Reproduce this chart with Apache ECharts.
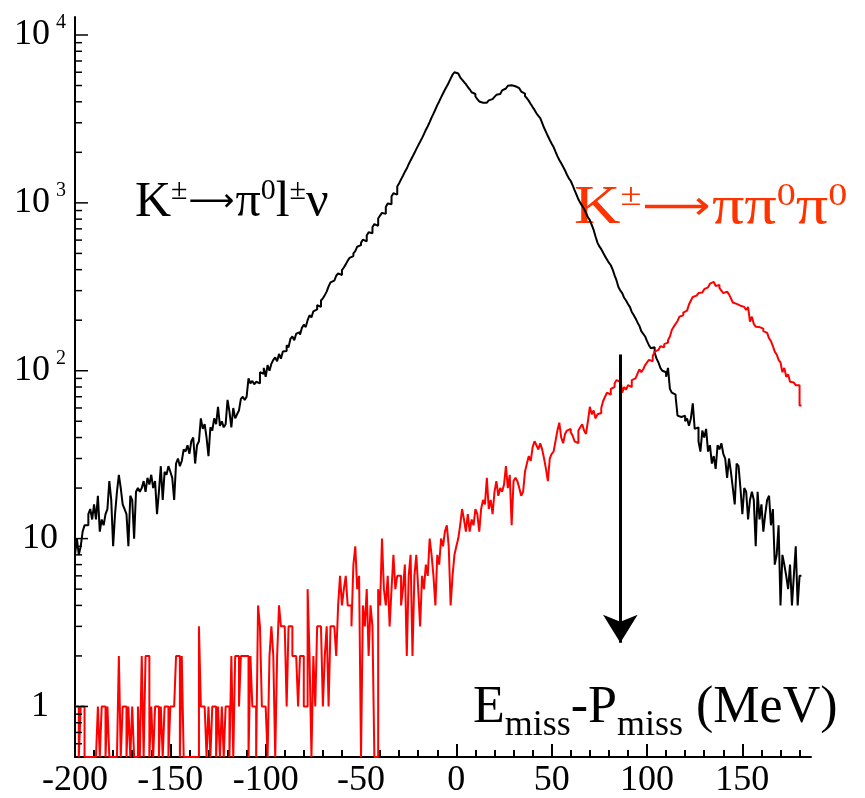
<!DOCTYPE html>
<html>
<head>
<meta charset="utf-8">
<title>Emiss - Pmiss</title>
<script src="https://cdn.jsdelivr.net/npm/echarts@6.0.0/dist/echarts.min.js"></script>
<style>
  html, body { margin: 0; padding: 0; background: #fff; }
  #chart { width: 865px; height: 798px; }
</style>
</head>
<body>
<div id="chart"></div>
<script>
// Histogram binning: 1 MeV bins, left edges from -200 MeV
const BIN_START = -200;
const BIN_WIDTH = 1;

// K± → π0 l± ν  (counts per bin, -200 … 180 MeV)
const kl3Counts = [
  8, 10, 8, 9, 11, 12, 12, 14, 15, 13,
  16, 13, 18, 11, 13, 12, 14, 15, 22, 17,
  9, 14, 19, 24, 20, 16, 15, 14, 9, 18,
  17, 10, 19, 20, 19, 20, 22, 19, 23, 21,
  24, 20, 22, 14, 19, 27, 17, 25, 24, 27,
  25, 23, 17, 28, 30, 27, 29, 34, 33, 36,
  32, 38, 40, 28, 36, 38, 52, 45, 48, 40,
  31, 46, 44, 52, 48, 61, 47, 50, 46, 48,
  67, 57, 46, 60, 52, 55, 58, 68, 70, 67,
  70, 90, 84, 87, 83, 86, 84, 98, 96, 104,
  92, 108, 100, 110, 116, 120, 114, 126, 118, 130,
  131, 142, 138, 155, 160, 152, 166, 170, 164, 180,
  188, 182, 200, 214, 208, 226, 232, 246, 240, 262,
  270, 282, 296, 318, 336, 344, 352, 368, 380, 372,
  398, 412, 430, 452, 470, 482, 500, 516, 548, 560,
  578, 604, 590, 640, 668, 660, 716, 748, 730, 806,
  840, 872, 860, 944, 992, 980, 1090, 1140, 1120, 1250,
  1310, 1380, 1450, 1530, 1600, 1700, 1790, 1880, 1980, 2090,
  2200, 2310, 2430, 2570, 2720, 2860, 3030, 3220, 3400, 3600,
  3820, 4020, 4250, 4480, 4720, 4950, 5200, 5500, 5800, 6000,
  5900, 5750, 5600, 5420, 5250, 5100, 4900, 4750, 4560, 4450,
  4300, 4150, 4020, 3950, 3920, 3950, 4000, 4080, 4150, 4180,
  4280, 4400, 4450, 4550, 4680, 4800, 4920, 4980, 5020, 4980,
  4950, 4900, 4820, 4700, 4600, 4480, 4320, 4200, 4050, 3880,
  3720, 3580, 3420, 3300, 3200, 3000, 2800, 2650, 2500, 2370,
  2250, 2150, 2020, 1900, 1800, 1720, 1640, 1560, 1470, 1400,
  1350, 1270, 1190, 1120, 1050, 1000, 960, 920, 870, 820,
  790, 740, 690, 630, 580, 550, 530, 505, 480, 460,
  440, 425, 400, 370, 345, 315, 300, 290, 272, 262,
  250, 240, 224, 215, 205, 194, 185, 172, 166, 160,
  150, 142, 136, 138, 128, 118, 112, 104, 100, 98,
  92, 104, 78, 74, 72, 70, 54, 53, 52, 54,
  50, 52, 47, 52, 64, 45, 46, 38, 33, 44,
  40, 45, 33, 36, 28, 31, 26, 36, 34, 37,
  32, 30, 23, 30, 25, 20, 16, 28, 27, 20,
  14, 20, 19, 13, 17, 19, 17, 9, 19, 13,
  16, 11, 14, 17, 18, 12, 15, 7, 8, 12,
  4, 8, 7, 6, 5, 7, 4, 6, 9, 4, 6
];

// K± → π π0 π0  (counts per bin, -200 … 180 MeV)
const k3piCounts = [
  1, 1, 0, 1, 1, 0, 0, 0, 0, 0,
  0, 0, 1, 0, 1, 1, 0, 1, 0, 0,
  0, 0, 0, 2, 0, 1, 1, 0, 1, 0,
  1, 0, 0, 1, 0, 2, 0, 2, 2, 0,
  1, 0, 1, 1, 0, 1, 0, 1, 1, 0,
  1, 1, 1, 2, 2, 0, 2, 0, 0, 0,
  0, 0, 0, 0, 0, 3, 1, 1, 1, 0,
  1, 0, 1, 1, 0, 1, 0, 1, 0, 1,
  1, 0, 2, 0, 2, 2, 1, 2, 2, 2,
  2, 0, 2, 1, 1, 0, 4, 3, 1, 1,
  1, 0, 2, 3, 2, 0, 2, 4, 3, 3,
  3, 1, 3, 3, 2, 2, 2, 1, 2, 2,
  1, 1, 5, 2, 0, 2, 1, 3, 3, 3,
  1, 2, 3, 1, 3, 3, 3, 2, 4, 6,
  4, 5, 6, 4, 4, 3, 7, 9, 5, 6,
  0, 4, 3, 5, 2, 4, 3, 0, 0, 5,
  4, 10, 5, 4, 6, 3, 5, 8, 5, 6,
  6, 4, 5, 7, 2, 6, 8, 2, 6, 8,
  5, 3, 6, 5, 7, 6, 10, 8, 6, 4,
  8, 7, 10, 9, 11, 12, 9, 4, 6, 8,
  9, 10, 12, 15, 13, 11, 14, 11, 13, 12,
  15, 14, 11, 15, 17, 16, 23, 15, 17, 14,
  19, 22, 18, 20, 19, 21, 27, 20, 24, 12,
  22, 23, 22, 20, 18, 19, 25, 28, 31, 29,
  35, 38, 36, 34, 37, 34, 30, 26, 22, 30,
  32, 33, 38, 44, 49, 40, 37, 42, 44, 45,
  43, 41, 38, 37, 44, 46, 48, 44, 42, 50,
  61, 55, 58, 52, 55, 56, 60, 66, 70, 74,
  72, 78, 80, 84, 88, 86, 90, 74, 80, 77,
  82, 80, 88, 90, 92, 96, 102, 98, 102, 108,
  112, 116, 114, 122, 130, 133, 136, 140, 138, 144,
  147, 152, 160, 175, 183, 190, 198, 210, 214, 222,
  228, 232, 248, 262, 275, 280, 284, 290, 292, 300,
  306, 314, 318, 330, 338, 334, 320, 324, 310, 300,
  290, 296, 300, 285, 270, 255, 250, 246, 244, 242,
  240, 236, 230, 240, 196, 210, 190, 183, 182, 180,
  178, 172, 168, 166, 156, 150, 140, 130, 125, 116,
  112, 98, 104, 92, 95, 86, 85, 84, 82, 82, 62
];

// Axis ranges and tick values
const X_MIN = -200, X_MAX = 186;
const Y_MIN = 0.5, Y_MAX = 12800;
const X_MAJOR_TICKS = [-200, -150, -100, -50, 0, 50, 100, 150];
const Y_MAJOR_TICKS = [1, 10, 100, 1000, 10000];

// Cut marker (arrow) at Emiss - Pmiss = 86 MeV
const CUT_X = 86, CUT_TOP = 125, CUT_END = 2.4;

// minor ticks: every 10 MeV on x, 2..9 per decade on y
const X_MINOR_TICKS = [];
for (let v = X_MIN + 10; v < X_MAX; v += 10) {
  if (X_MAJOR_TICKS.indexOf(v) < 0) X_MINOR_TICKS.push(v);
}
const Y_MINOR_TICKS = [];
[0.1, 1, 10, 100, 1000].forEach(function (d) {
  for (let m = 2; m <= 9; m++) {
    const v = +(m * d).toPrecision(3);
    if (v > Y_MIN && v < Y_MAX) Y_MINOR_TICKS.push(v);
  }
});

// step outline of a histogram; empty bins are drawn down to the axis floor
function histPoints(counts) {
  const pts = counts.map(function (c, i) {
    return [BIN_START + i * BIN_WIDTH, c > 0 ? c : Y_MIN];
  });
  pts.push([BIN_START + counts.length * BIN_WIDTH, pts[pts.length - 1][1]]);
  return pts;
}

// y tick marks: [x, value, kind]; kind 0 = major, 1 = minor
const yTickData = [];
Y_MAJOR_TICKS.forEach(function (v) { yTickData.push([X_MIN, v, 0]); });
Y_MINOR_TICKS.forEach(function (v) { yTickData.push([X_MIN, v, 1]); });

const SERIF = 'Liberation Serif';
const ARROW_FONT = 'DejaVu Sans';
const TICK_STYLE = { color: '#000', width: 2 };
const chart = echarts.init(document.getElementById('chart'), null, { renderer: 'canvas' });

function decayLabel(text, color, size, supSize, arrowSize) {
  return {
    text: text,
    fill: color, fontFamily: SERIF, fontSize: size,
    rich: {
      s: { fill: color, fontFamily: SERIF, fontSize: supSize, padding: [0, 0, 24, 0] },
      a: { fill: color, fontFamily: ARROW_FONT, fontSize: arrowSize, padding: [0, 1, 0, 1] }
    }
  };
}

const xAxisBase = {
  type: 'value', position: 'bottom',
  min: X_MIN, max: X_MAX,
  splitLine: { show: false }
};

chart.setOption({
  animation: false,
  backgroundColor: '#fff',
  grid: { left: 75, right: 54, top: 17, bottom: 41, containLabel: false, outerBoundsMode: 'none' },
  xAxis: [
    Object.assign({}, xAxisBase, {
      interval: 50,
      axisLine: { show: true, onZero: false, lineStyle: { color: '#000', width: 2 } },
      axisTick: { show: true, inside: true, length: 13, lineStyle: TICK_STYLE, customValues: X_MAJOR_TICKS },
      axisLabel: {
        color: '#000', fontFamily: SERIF, fontSize: 36, margin: 6,
        customValues: X_MAJOR_TICKS
      }
    }),
    Object.assign({}, xAxisBase, {
      interval: 10,
      axisLine: { show: false, onZero: false },
      axisTick: { show: true, inside: true, length: 7, lineStyle: TICK_STYLE, customValues: X_MINOR_TICKS },
      axisLabel: { show: false }
    })
  ],
  yAxis: {
    type: 'log', logBase: 10,
    min: Y_MIN, max: Y_MAX,
    axisLine: { show: true, onZero: false, lineStyle: { color: '#000', width: 2 } },
    axisTick: { show: false },
    splitLine: { show: false },
    minorSplitLine: { show: false },
    axisLabel: {
      color: '#000', fontFamily: SERIF, fontSize: 36, margin: 35, align: 'center',
      showMinLabel: false, showMaxLabel: false,
      formatter: function (v) {
        const e = Math.round(Math.log10(v));
        if (e === 0) return '1';
        if (e === 1) return '10';
        return '10{e|' + e + '}';
      },
      rich: {
        e: { fontFamily: SERIF, fontSize: 20, color: '#000', padding: [0, 0, 24, 6] }
      }
    }
  },
  series: [
    {
      name: 'K± → π0 l± ν',
      type: 'line',
      step: 'end',
      data: histPoints(kl3Counts),
      showSymbol: false,
      symbol: 'none',
      lineStyle: { color: '#000', width: 2 },
      z: 3
    },
    {
      name: 'K± → π π0 π0',
      type: 'line',
      step: 'end',
      data: histPoints(k3piCounts),
      showSymbol: false,
      symbol: 'none',
      lineStyle: { color: '#ff0000', width: 2 },
      z: 4,
      markLine: {
        silent: true,
        symbol: ['none', 'arrow'],
        symbolSize: [26, 28],
        label: { show: false },
        lineStyle: { color: '#000', width: 3, type: 'solid' },
        data: [[{ coord: [CUT_X, CUT_TOP] }, { coord: [CUT_X, CUT_END] }]]
      }
    },
    {
      name: 'y ticks',
      type: 'custom',
      coordinateSystem: 'cartesian2d',
      silent: true,
      clip: false,
      z: 5,
      data: yTickData,
      renderItem: function (params, api) {
        const p = api.coord([api.value(0), api.value(1)]);
        const len = api.value(2) === 0 ? 13 : 7;
        const x0 = params.coordSys.x;
        return {
          type: 'line',
          shape: { x1: x0, y1: p[1], x2: x0 + len, y2: p[1] },
          style: { stroke: '#000', lineWidth: 1.5 }
        };
      }
    }
  ],
  graphic: [
    {
      type: 'text', left: 135, top: 176,
      style: decayLabel('K{s|±}{a|⟶}π{s|0}l{s|±}ν', '#000', 50, 30, 32)
    },
    {
      type: 'text', left: 574, top: 181, scaleX: 1.19, originX: 0,
      style: decayLabel('K{s|±}{a|⟶}ππ{s|0}π{s|0}', '#ff3300', 54, 32, 40)
    },
    {
      type: 'text', left: 473, top: 682,
      style: {
        text: 'E{s|miss}-P{s|miss} (MeV)',
        fill: '#000', fontFamily: SERIF, fontSize: 52,
        rich: { s: { fill: '#000', fontFamily: SERIF, fontSize: 36, padding: [36, 0, 0, 0] } }
      }
    }
  ]
});
</script>
</body>
</html>
